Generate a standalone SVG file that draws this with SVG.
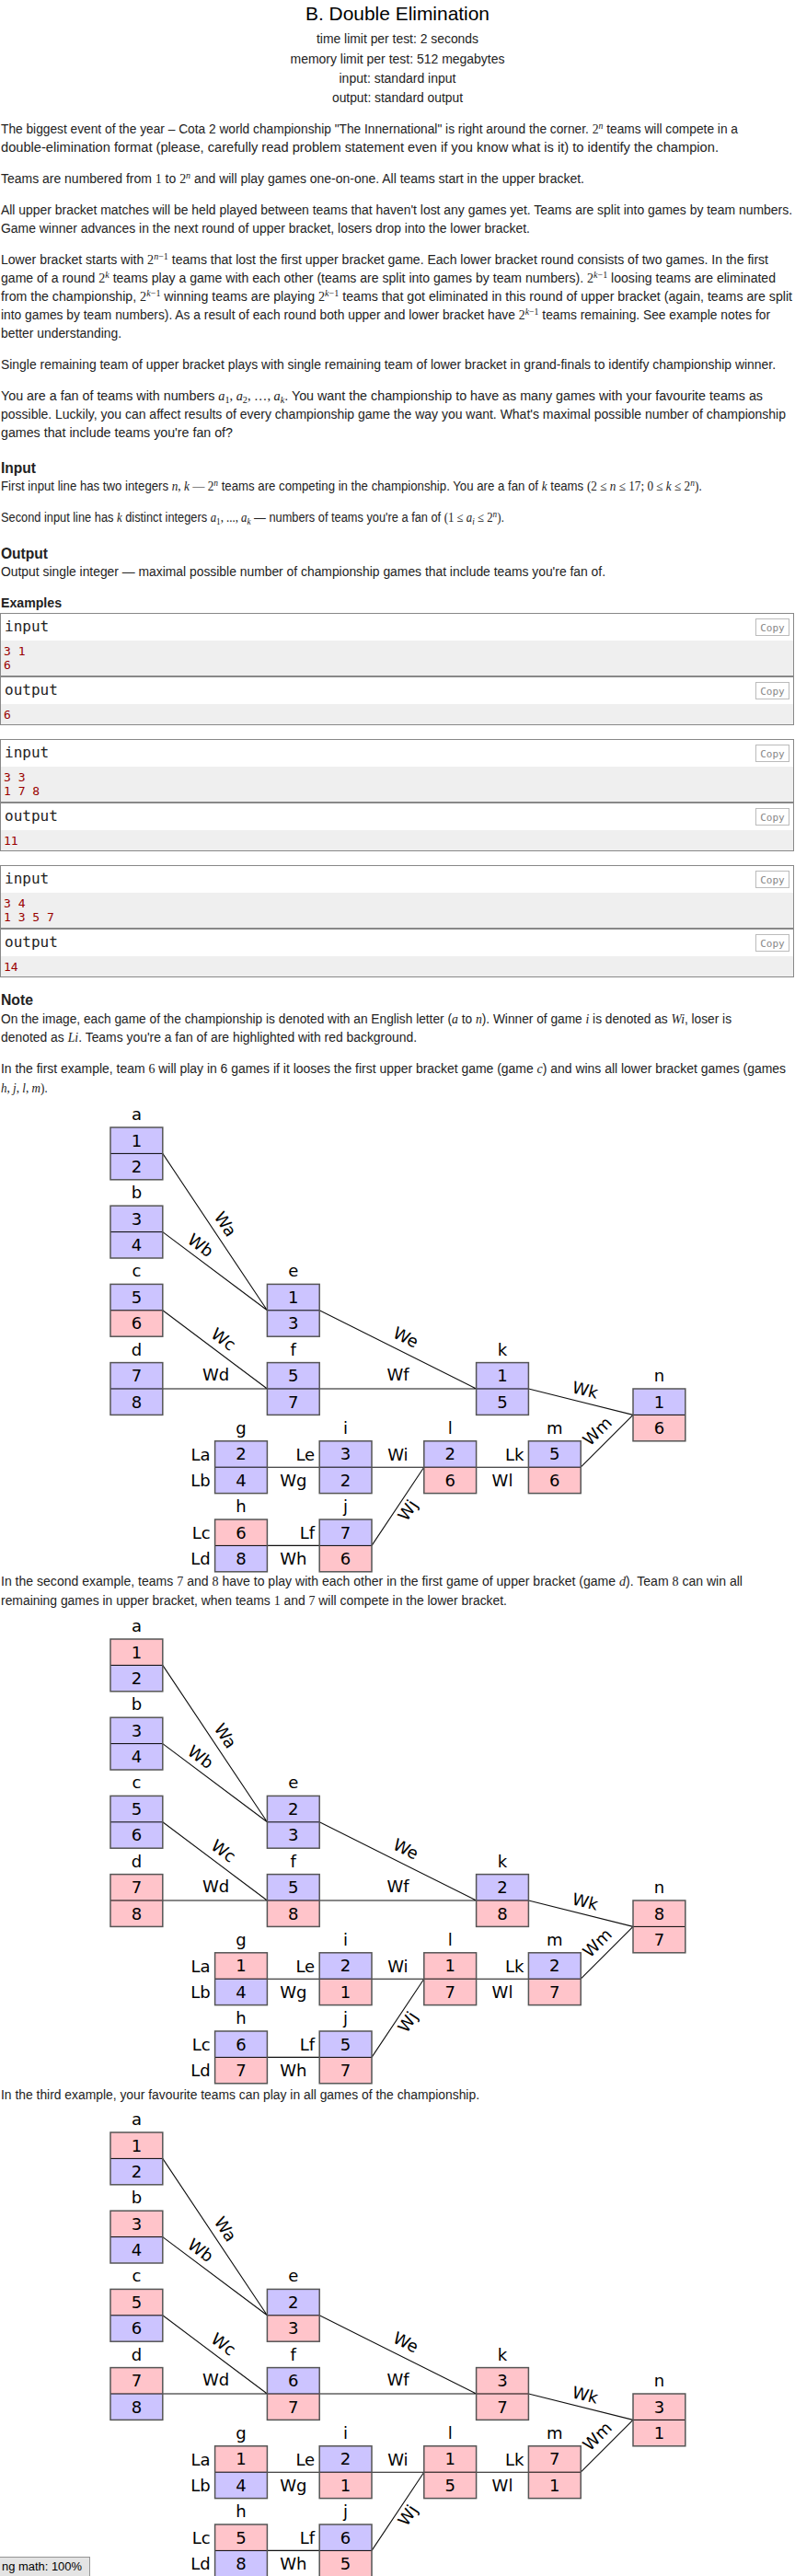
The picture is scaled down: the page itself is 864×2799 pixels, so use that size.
<svg xmlns="http://www.w3.org/2000/svg" width="864" height="2799" viewBox="0 0 864 2799">
<style>
.t{font-family:"Liberation Sans",Arial,sans-serif;font-size:14px;fill:#222}
.h{font-family:"Liberation Sans",Arial,sans-serif;font-size:16px;font-weight:bold;fill:#222}
.c{text-anchor:middle}
.m{font-family:"Liberation Serif","Times New Roman",serif}
.i{font-family:"Liberation Serif","Times New Roman",serif;font-style:italic}
.s{font-size:10px}
.ttl{font-family:"DejaVu Sans Mono",monospace;font-size:16px;fill:#222}
.io{font-family:"DejaVu Sans Mono",monospace;font-size:13px;fill:#990000}
.cpb{fill:#fff;stroke:#bbb;stroke-width:1}
.cpt{font-family:"DejaVu Sans Mono",monospace;font-size:11px;fill:#888;text-anchor:middle}
.gr{fill:#efefef}
.ob{fill:none;stroke:#888;stroke-width:1}
.cv{fill:#ccc4ff}
.cp{fill:#ffc4ca}
.bx{fill:none;stroke:#555;stroke-width:1.5}
.dv{stroke:#000;stroke-width:1;fill:none}
.n{font-family:"DejaVu Sans",Verdana,sans-serif;font-size:18px;fill:#000;text-anchor:middle}
.e{text-anchor:end}
.cn{fill:none;stroke:#111;stroke-width:1.1}
.wl{font-family:"DejaVu Sans",Verdana,sans-serif;font-size:18px;fill:#000;text-anchor:middle;dominant-baseline:central}
</style>

<g id="header">
<text class="t c" x="432" y="22" style="font-size:21px;fill:#000" textLength="200" lengthAdjust="spacingAndGlyphs">B. Double Elimination</text>
<text class="t c" x="432" y="47" textLength="176" lengthAdjust="spacingAndGlyphs">time limit per test: 2 seconds</text>
<text class="t c" x="432" y="69" textLength="233" lengthAdjust="spacingAndGlyphs">memory limit per test: 512 megabytes</text>
<text class="t c" x="432" y="90" textLength="127" lengthAdjust="spacingAndGlyphs">input: standard input</text>
<text class="t c" x="432" y="111" textLength="142" lengthAdjust="spacingAndGlyphs">output: standard output</text>
</g>

<g id="statement">
<text class="t" x="1" y="145" textLength="801" lengthAdjust="spacingAndGlyphs">The biggest event of the year – Cota 2 world championship "The Innernational" is right around the corner. <tspan class="m">2</tspan><tspan class="i s" dy="-5">n</tspan><tspan dy="5"> teams will compete in a</tspan></text>
<text class="t" x="1" y="165" textLength="780" lengthAdjust="spacingAndGlyphs">double-elimination format (please, carefully read problem statement even if you know what is it) to identify the champion.</text>
<text class="t" x="1" y="199" textLength="634" lengthAdjust="spacingAndGlyphs">Teams are numbered from <tspan class="m">1</tspan> to <tspan class="m">2</tspan><tspan class="i s" dy="-5">n</tspan><tspan dy="5"> and will play games one-on-one. All teams start in the upper bracket.</tspan></text>
<text class="t" x="1" y="233" textLength="860" lengthAdjust="spacingAndGlyphs">All upper bracket matches will be held played between teams that haven't lost any games yet. Teams are split into games by team numbers.</text>
<text class="t" x="1" y="253" textLength="575" lengthAdjust="spacingAndGlyphs">Game winner advances in the next round of upper bracket, losers drop into the lower bracket.</text>
<text class="t" x="1" y="287" textLength="834" lengthAdjust="spacingAndGlyphs">Lower bracket starts with <tspan class="m">2</tspan><tspan class="s" dy="-5"><tspan class="i">n</tspan><tspan class="m">−1</tspan></tspan><tspan dy="5"> teams that lost the first upper bracket game. Each lower bracket round consists of two games. In the first</tspan></text>
<text class="t" x="1" y="307" textLength="842" lengthAdjust="spacingAndGlyphs">game of a round <tspan class="m">2</tspan><tspan class="i s" dy="-5">k</tspan><tspan dy="5"> teams play a game with each other (teams are split into games by team numbers). </tspan><tspan class="m">2</tspan><tspan class="s" dy="-5"><tspan class="i">k</tspan><tspan class="m">−1</tspan></tspan><tspan dy="5"> loosing teams are eliminated</tspan></text>
<text class="t" x="1" y="327" textLength="860" lengthAdjust="spacingAndGlyphs">from the championship, <tspan class="m">2</tspan><tspan class="s" dy="-5"><tspan class="i">k</tspan><tspan class="m">−1</tspan></tspan><tspan dy="5"> winning teams are playing </tspan><tspan class="m">2</tspan><tspan class="s" dy="-5"><tspan class="i">k</tspan><tspan class="m">−1</tspan></tspan><tspan dy="5"> teams that got eliminated in this round of upper bracket (again, teams are split</tspan></text>
<text class="t" x="1" y="347" textLength="836" lengthAdjust="spacingAndGlyphs">into games by team numbers). As a result of each round both upper and lower bracket have <tspan class="m">2</tspan><tspan class="s" dy="-5"><tspan class="i">k</tspan><tspan class="m">−1</tspan></tspan><tspan dy="5"> teams remaining. See example notes for</tspan></text>
<text class="t" x="1" y="367" textLength="131" lengthAdjust="spacingAndGlyphs">better understanding.</text>
<text class="t" x="1" y="401" textLength="842" lengthAdjust="spacingAndGlyphs">Single remaining team of upper bracket plays with single remaining team of lower bracket in grand-finals to identify championship winner.</text>
<text class="t" x="1" y="435" textLength="828" lengthAdjust="spacingAndGlyphs">You are a fan of teams with numbers <tspan class="i">a</tspan><tspan class="m s" dy="3">1</tspan><tspan class="m" dy="-3">, </tspan><tspan class="i">a</tspan><tspan class="m s" dy="3">2</tspan><tspan class="m" dy="-3">, …, </tspan><tspan class="i">a</tspan><tspan class="i s" dy="3">k</tspan><tspan dy="-3">. You want the championship to have as many games with your favourite teams as</tspan></text>
<text class="t" x="1" y="455" textLength="853" lengthAdjust="spacingAndGlyphs">possible. Luckily, you can affect results of every championship game the way you want. What's maximal possible number of championship</text>
<text class="t" x="1" y="475" textLength="252" lengthAdjust="spacingAndGlyphs">games that include teams you're fan of?</text>

<text class="h" x="1" y="514" textLength="38" lengthAdjust="spacingAndGlyphs">Input</text>
<text class="t" x="1" y="533" textLength="762" lengthAdjust="spacingAndGlyphs">First input line has two integers <tspan class="i">n</tspan><tspan class="m">, </tspan><tspan class="i">k</tspan><tspan class="m"> — 2</tspan><tspan class="i s" dy="-5">n</tspan><tspan dy="5"> teams are competing in the championship. You are a fan of </tspan><tspan class="i">k</tspan><tspan> teams </tspan><tspan class="m">(2 ≤ </tspan><tspan class="i">n</tspan><tspan class="m"> ≤ 17; 0 ≤ </tspan><tspan class="i">k</tspan><tspan class="m"> ≤ 2</tspan><tspan class="i s" dy="-5">n</tspan><tspan class="m" dy="5">)</tspan><tspan>.</tspan></text>
<text class="t" x="1" y="567" textLength="547" lengthAdjust="spacingAndGlyphs">Second input line has <tspan class="i">k</tspan><tspan> distinct integers </tspan><tspan class="i">a</tspan><tspan class="m s" dy="3">1</tspan><tspan class="m" dy="-3">, ..., </tspan><tspan class="i">a</tspan><tspan class="i s" dy="3">k</tspan><tspan dy="-3"> — numbers of teams you're a fan of </tspan><tspan class="m">(1 ≤ </tspan><tspan class="i">a</tspan><tspan class="i s" dy="3">i</tspan><tspan class="m" dy="-3"> ≤ 2</tspan><tspan class="i s" dy="-5">n</tspan><tspan class="m" dy="5">)</tspan><tspan>.</tspan></text>

<text class="h" x="1" y="607" textLength="51" lengthAdjust="spacingAndGlyphs">Output</text>
<text class="t" x="1" y="626" textLength="657" lengthAdjust="spacingAndGlyphs">Output single integer — maximal possible number of championship games that include teams you're fan of.</text>
</g>

<g id="examples">
<text class="h" x="1" y="660" style="font-size:14px" textLength="66" lengthAdjust="spacingAndGlyphs">Examples</text>

<g id="example1">
<rect x="0.5" y="666.5" width="862" height="121" fill="#fff"/>
<rect class="gr" x="1" y="696" width="861" height="38"/>
<rect class="gr" x="1" y="765" width="861" height="22"/>
<rect class="ob" x="0.5" y="666.5" width="862" height="121"/>
<line x1="0" y1="735" x2="863" y2="735" stroke="#888" stroke-width="2"/>
<text class="ttl" x="5" y="686">input</text>
<rect class="cpb" x="821.5" y="672.5" width="36" height="18"/><text class="cpt" x="839.5" y="685.5">Copy</text>
<text class="io" x="4" y="711.5">3 1</text>
<text class="io" x="4" y="727">6</text>
<text class="ttl" x="5" y="755">output</text>
<rect class="cpb" x="821.5" y="741.5" width="36" height="18"/><text class="cpt" x="839.5" y="754.5">Copy</text>
<text class="io" x="4" y="780.5">6</text>
</g>

<g id="example2">
<rect x="0.5" y="803.5" width="862" height="121" fill="#fff"/>
<rect class="gr" x="1" y="833" width="861" height="38"/>
<rect class="gr" x="1" y="902" width="861" height="22"/>
<rect class="ob" x="0.5" y="803.5" width="862" height="121"/>
<line x1="0" y1="872" x2="863" y2="872" stroke="#888" stroke-width="2"/>
<text class="ttl" x="5" y="823">input</text>
<rect class="cpb" x="821.5" y="809.5" width="36" height="18"/><text class="cpt" x="839.5" y="822.5">Copy</text>
<text class="io" x="4" y="848.5">3 3</text>
<text class="io" x="4" y="864">1 7 8</text>
<text class="ttl" x="5" y="892">output</text>
<rect class="cpb" x="821.5" y="878.5" width="36" height="18"/><text class="cpt" x="839.5" y="891.5">Copy</text>
<text class="io" x="4" y="917.5">11</text>
</g>

<g id="example3">
<rect x="0.5" y="940.5" width="862" height="121" fill="#fff"/>
<rect class="gr" x="1" y="970" width="861" height="38"/>
<rect class="gr" x="1" y="1039" width="861" height="22"/>
<rect class="ob" x="0.5" y="940.5" width="862" height="121"/>
<line x1="0" y1="1009" x2="863" y2="1009" stroke="#888" stroke-width="2"/>
<text class="ttl" x="5" y="960">input</text>
<rect class="cpb" x="821.5" y="946.5" width="36" height="18"/><text class="cpt" x="839.5" y="959.5">Copy</text>
<text class="io" x="4" y="985.5">3 4</text>
<text class="io" x="4" y="1001">1 3 5 7</text>
<text class="ttl" x="5" y="1029">output</text>
<rect class="cpb" x="821.5" y="1015.5" width="36" height="18"/><text class="cpt" x="839.5" y="1028.5">Copy</text>
<text class="io" x="4" y="1054.5">14</text>
</g>
</g>

<g id="note">
<text class="h" x="1" y="1092" textLength="35" lengthAdjust="spacingAndGlyphs">Note</text>
<text class="t" x="1" y="1112" textLength="794" lengthAdjust="spacingAndGlyphs">On the image, each game of the championship is denoted with an English letter (<tspan class="i">a</tspan> to <tspan class="i">n</tspan>). Winner of game <tspan class="i">i</tspan> is denoted as <tspan class="i">Wi</tspan>, loser is</text>
<text class="t" x="1" y="1132" textLength="452" lengthAdjust="spacingAndGlyphs">denoted as <tspan class="i">Li</tspan>. Teams you're a fan of are highlighted with red background.</text>
<text class="t" x="1" y="1166" textLength="853" lengthAdjust="spacingAndGlyphs">In the first example, team <tspan class="m">6</tspan> will play in 6 games if it looses the first upper bracket game (game <tspan class="i">c</tspan>) and wins all lower bracket games (games</text>
<text class="t" x="1" y="1187" textLength="51" lengthAdjust="spacingAndGlyphs"><tspan class="i">h</tspan><tspan class="m">, </tspan><tspan class="i">j</tspan><tspan class="m">, </tspan><tspan class="i">l</tspan><tspan class="m">, </tspan><tspan class="i">m</tspan><tspan class="m">)</tspan>.</text>
<text class="t" x="1" y="1723" textLength="806" lengthAdjust="spacingAndGlyphs">In the second example, teams <tspan class="m">7</tspan> and <tspan class="m">8</tspan> have to play with each other in the first game of upper bracket (game <tspan class="i">d</tspan>). Team <tspan class="m">8</tspan> can win all</text>
<text class="t" x="1" y="1744" textLength="550" lengthAdjust="spacingAndGlyphs">remaining games in upper bracket, when teams <tspan class="m">1</tspan> and <tspan class="m">7</tspan> will compete in the lower bracket.</text>
<text class="t" x="1" y="2281" textLength="520" lengthAdjust="spacingAndGlyphs">In the third example, your favourite teams can play in all games of the championship.</text>
</g>

<!-- Diagram 1 -->
<g id="diagram1" transform="translate(0,1225)">
<g id="d1-connectors">
<path class="cn" d="M176.8 28.4L290.4 198.8M176.8 113.6L290.4 198.8M176.8 198.8L290.4 284M176.8 284H290.4M347.2 198.8L517.6 284M347.2 284H517.6M574.4 284L688 312.4M631.2 369.2L688 312.4M290.4 369.2H347.2M404 369.2H460.8M517.6 369.2H574.4M290.4 454.4H347.2M404 454.4L460.8 369.2"/>
<text class="wl" transform="translate(245 105) rotate(56.3)">Wa</text>
<text class="wl" transform="translate(218 128) rotate(36.87)">Wb</text>
<text class="wl" transform="translate(243 230) rotate(36.87)">Wc</text>
<text class="wl" x="234.5" y="268">Wd</text>
<text class="wl" transform="translate(441 228) rotate(26.57)">We</text>
<text class="wl" x="432.5" y="268">Wf</text>
<text class="wl" transform="translate(636 285) rotate(14.04)">Wk</text>
<text class="wl" transform="translate(649 330) rotate(-45)">Wm</text>
<text class="wl" transform="translate(443 416) rotate(-56.3)">Wj</text>
<text class="n e" x="228.6" y="361.5">La</text>
<text class="n e" x="228.6" y="389.9">Lb</text>
<text class="n e" x="342.2" y="361.5">Le</text>
<text class="n" x="318.8" y="389.9">Wg</text>
<text class="n" x="432.4" y="361.5">Wi</text>
<text class="n e" x="569.4" y="361.5">Lk</text>
<text class="n" x="546" y="389.9">Wl</text>
<text class="n e" x="228.6" y="446.7">Lc</text>
<text class="n e" x="228.6" y="475.1">Ld</text>
<text class="n e" x="342.2" y="446.7">Lf</text>
<text class="n" x="318.8" y="475.1">Wh</text>
</g>
<g id="d1-a" transform="translate(120 0)"><rect class="cv" width="56.8" height="28.4"/><rect class="cv" y="28.4" width="56.8" height="28.4"/><path class="dv" d="M0 28.4H56.8"/><rect class="bx" width="56.8" height="56.8"/><text class="n" x="28.4" y="-8">a</text><text class="n" x="28.4" y="20.7">1</text><text class="n" x="28.4" y="49.1">2</text></g>
<g id="d1-b" transform="translate(120 85.2)"><rect class="cv" width="56.8" height="28.4"/><rect class="cv" y="28.4" width="56.8" height="28.4"/><path class="dv" d="M0 28.4H56.8"/><rect class="bx" width="56.8" height="56.8"/><text class="n" x="28.4" y="-8">b</text><text class="n" x="28.4" y="20.7">3</text><text class="n" x="28.4" y="49.1">4</text></g>
<g id="d1-c" transform="translate(120 170.4)"><rect class="cv" width="56.8" height="28.4"/><rect class="cp" y="28.4" width="56.8" height="28.4"/><path class="dv" d="M0 28.4H56.8"/><rect class="bx" width="56.8" height="56.8"/><text class="n" x="28.4" y="-8">c</text><text class="n" x="28.4" y="20.7">5</text><text class="n" x="28.4" y="49.1">6</text></g>
<g id="d1-d" transform="translate(120 255.6)"><rect class="cv" width="56.8" height="28.4"/><rect class="cv" y="28.4" width="56.8" height="28.4"/><path class="dv" d="M0 28.4H56.8"/><rect class="bx" width="56.8" height="56.8"/><text class="n" x="28.4" y="-8">d</text><text class="n" x="28.4" y="20.7">7</text><text class="n" x="28.4" y="49.1">8</text></g>
<g id="d1-e" transform="translate(290.4 170.4)"><rect class="cv" width="56.8" height="28.4"/><rect class="cv" y="28.4" width="56.8" height="28.4"/><path class="dv" d="M0 28.4H56.8"/><rect class="bx" width="56.8" height="56.8"/><text class="n" x="28.4" y="-8">e</text><text class="n" x="28.4" y="20.7">1</text><text class="n" x="28.4" y="49.1">3</text></g>
<g id="d1-f" transform="translate(290.4 255.6)"><rect class="cv" width="56.8" height="28.4"/><rect class="cv" y="28.4" width="56.8" height="28.4"/><path class="dv" d="M0 28.4H56.8"/><rect class="bx" width="56.8" height="56.8"/><text class="n" x="28.4" y="-8">f</text><text class="n" x="28.4" y="20.7">5</text><text class="n" x="28.4" y="49.1">7</text></g>
<g id="d1-k" transform="translate(517.6 255.6)"><rect class="cv" width="56.8" height="28.4"/><rect class="cv" y="28.4" width="56.8" height="28.4"/><path class="dv" d="M0 28.4H56.8"/><rect class="bx" width="56.8" height="56.8"/><text class="n" x="28.4" y="-8">k</text><text class="n" x="28.4" y="20.7">1</text><text class="n" x="28.4" y="49.1">5</text></g>
<g id="d1-n" transform="translate(688 284)"><rect class="cv" width="56.8" height="28.4"/><rect class="cp" y="28.4" width="56.8" height="28.4"/><path class="dv" d="M0 28.4H56.8"/><rect class="bx" width="56.8" height="56.8"/><text class="n" x="28.4" y="-8">n</text><text class="n" x="28.4" y="20.7">1</text><text class="n" x="28.4" y="49.1">6</text></g>
<g id="d1-g" transform="translate(233.6 340.8)"><rect class="cv" width="56.8" height="28.4"/><rect class="cv" y="28.4" width="56.8" height="28.4"/><path class="dv" d="M0 28.4H56.8"/><rect class="bx" width="56.8" height="56.8"/><text class="n" x="28.4" y="-8">g</text><text class="n" x="28.4" y="20.7">2</text><text class="n" x="28.4" y="49.1">4</text></g>
<g id="d1-i" transform="translate(347.2 340.8)"><rect class="cv" width="56.8" height="28.4"/><rect class="cv" y="28.4" width="56.8" height="28.4"/><path class="dv" d="M0 28.4H56.8"/><rect class="bx" width="56.8" height="56.8"/><text class="n" x="28.4" y="-8">i</text><text class="n" x="28.4" y="20.7">3</text><text class="n" x="28.4" y="49.1">2</text></g>
<g id="d1-l" transform="translate(460.8 340.8)"><rect class="cv" width="56.8" height="28.4"/><rect class="cp" y="28.4" width="56.8" height="28.4"/><path class="dv" d="M0 28.4H56.8"/><rect class="bx" width="56.8" height="56.8"/><text class="n" x="28.4" y="-8">l</text><text class="n" x="28.4" y="20.7">2</text><text class="n" x="28.4" y="49.1">6</text></g>
<g id="d1-m" transform="translate(574.4 340.8)"><rect class="cv" width="56.8" height="28.4"/><rect class="cp" y="28.4" width="56.8" height="28.4"/><path class="dv" d="M0 28.4H56.8"/><rect class="bx" width="56.8" height="56.8"/><text class="n" x="28.4" y="-8">m</text><text class="n" x="28.4" y="20.7">5</text><text class="n" x="28.4" y="49.1">6</text></g>
<g id="d1-h" transform="translate(233.6 426)"><rect class="cp" width="56.8" height="28.4"/><rect class="cv" y="28.4" width="56.8" height="28.4"/><path class="dv" d="M0 28.4H56.8"/><rect class="bx" width="56.8" height="56.8"/><text class="n" x="28.4" y="-8">h</text><text class="n" x="28.4" y="20.7">6</text><text class="n" x="28.4" y="49.1">8</text></g>
<g id="d1-j" transform="translate(347.2 426)"><rect class="cv" width="56.8" height="28.4"/><rect class="cp" y="28.4" width="56.8" height="28.4"/><path class="dv" d="M0 28.4H56.8"/><rect class="bx" width="56.8" height="56.8"/><text class="n" x="28.4" y="-8">j</text><text class="n" x="28.4" y="20.7">7</text><text class="n" x="28.4" y="49.1">6</text></g>
</g>

<!-- Diagram 2 -->
<g id="diagram2" transform="translate(0,1781)">
<g id="d2-connectors">
<path class="cn" d="M176.8 28.4L290.4 198.8M176.8 113.6L290.4 198.8M176.8 198.8L290.4 284M176.8 284H290.4M347.2 198.8L517.6 284M347.2 284H517.6M574.4 284L688 312.4M631.2 369.2L688 312.4M290.4 369.2H347.2M404 369.2H460.8M517.6 369.2H574.4M290.4 454.4H347.2M404 454.4L460.8 369.2"/>
<text class="wl" transform="translate(245 105) rotate(56.3)">Wa</text>
<text class="wl" transform="translate(218 128) rotate(36.87)">Wb</text>
<text class="wl" transform="translate(243 230) rotate(36.87)">Wc</text>
<text class="wl" x="234.5" y="268">Wd</text>
<text class="wl" transform="translate(441 228) rotate(26.57)">We</text>
<text class="wl" x="432.5" y="268">Wf</text>
<text class="wl" transform="translate(636 285) rotate(14.04)">Wk</text>
<text class="wl" transform="translate(649 330) rotate(-45)">Wm</text>
<text class="wl" transform="translate(443 416) rotate(-56.3)">Wj</text>
<text class="n e" x="228.6" y="361.5">La</text>
<text class="n e" x="228.6" y="389.9">Lb</text>
<text class="n e" x="342.2" y="361.5">Le</text>
<text class="n" x="318.8" y="389.9">Wg</text>
<text class="n" x="432.4" y="361.5">Wi</text>
<text class="n e" x="569.4" y="361.5">Lk</text>
<text class="n" x="546" y="389.9">Wl</text>
<text class="n e" x="228.6" y="446.7">Lc</text>
<text class="n e" x="228.6" y="475.1">Ld</text>
<text class="n e" x="342.2" y="446.7">Lf</text>
<text class="n" x="318.8" y="475.1">Wh</text>
</g>
<g id="d2-a" transform="translate(120 0)"><rect class="cp" width="56.8" height="28.4"/><rect class="cv" y="28.4" width="56.8" height="28.4"/><path class="dv" d="M0 28.4H56.8"/><rect class="bx" width="56.8" height="56.8"/><text class="n" x="28.4" y="-8">a</text><text class="n" x="28.4" y="20.7">1</text><text class="n" x="28.4" y="49.1">2</text></g>
<g id="d2-b" transform="translate(120 85.2)"><rect class="cv" width="56.8" height="28.4"/><rect class="cv" y="28.4" width="56.8" height="28.4"/><path class="dv" d="M0 28.4H56.8"/><rect class="bx" width="56.8" height="56.8"/><text class="n" x="28.4" y="-8">b</text><text class="n" x="28.4" y="20.7">3</text><text class="n" x="28.4" y="49.1">4</text></g>
<g id="d2-c" transform="translate(120 170.4)"><rect class="cv" width="56.8" height="28.4"/><rect class="cv" y="28.4" width="56.8" height="28.4"/><path class="dv" d="M0 28.4H56.8"/><rect class="bx" width="56.8" height="56.8"/><text class="n" x="28.4" y="-8">c</text><text class="n" x="28.4" y="20.7">5</text><text class="n" x="28.4" y="49.1">6</text></g>
<g id="d2-d" transform="translate(120 255.6)"><rect class="cp" width="56.8" height="28.4"/><rect class="cp" y="28.4" width="56.8" height="28.4"/><path class="dv" d="M0 28.4H56.8"/><rect class="bx" width="56.8" height="56.8"/><text class="n" x="28.4" y="-8">d</text><text class="n" x="28.4" y="20.7">7</text><text class="n" x="28.4" y="49.1">8</text></g>
<g id="d2-e" transform="translate(290.4 170.4)"><rect class="cv" width="56.8" height="28.4"/><rect class="cv" y="28.4" width="56.8" height="28.4"/><path class="dv" d="M0 28.4H56.8"/><rect class="bx" width="56.8" height="56.8"/><text class="n" x="28.4" y="-8">e</text><text class="n" x="28.4" y="20.7">2</text><text class="n" x="28.4" y="49.1">3</text></g>
<g id="d2-f" transform="translate(290.4 255.6)"><rect class="cv" width="56.8" height="28.4"/><rect class="cp" y="28.4" width="56.8" height="28.4"/><path class="dv" d="M0 28.4H56.8"/><rect class="bx" width="56.8" height="56.8"/><text class="n" x="28.4" y="-8">f</text><text class="n" x="28.4" y="20.7">5</text><text class="n" x="28.4" y="49.1">8</text></g>
<g id="d2-k" transform="translate(517.6 255.6)"><rect class="cv" width="56.8" height="28.4"/><rect class="cp" y="28.4" width="56.8" height="28.4"/><path class="dv" d="M0 28.4H56.8"/><rect class="bx" width="56.8" height="56.8"/><text class="n" x="28.4" y="-8">k</text><text class="n" x="28.4" y="20.7">2</text><text class="n" x="28.4" y="49.1">8</text></g>
<g id="d2-n" transform="translate(688 284)"><rect class="cp" width="56.8" height="28.4"/><rect class="cp" y="28.4" width="56.8" height="28.4"/><path class="dv" d="M0 28.4H56.8"/><rect class="bx" width="56.8" height="56.8"/><text class="n" x="28.4" y="-8">n</text><text class="n" x="28.4" y="20.7">8</text><text class="n" x="28.4" y="49.1">7</text></g>
<g id="d2-g" transform="translate(233.6 340.8)"><rect class="cp" width="56.8" height="28.4"/><rect class="cv" y="28.4" width="56.8" height="28.4"/><path class="dv" d="M0 28.4H56.8"/><rect class="bx" width="56.8" height="56.8"/><text class="n" x="28.4" y="-8">g</text><text class="n" x="28.4" y="20.7">1</text><text class="n" x="28.4" y="49.1">4</text></g>
<g id="d2-i" transform="translate(347.2 340.8)"><rect class="cv" width="56.8" height="28.4"/><rect class="cp" y="28.4" width="56.8" height="28.4"/><path class="dv" d="M0 28.4H56.8"/><rect class="bx" width="56.8" height="56.8"/><text class="n" x="28.4" y="-8">i</text><text class="n" x="28.4" y="20.7">2</text><text class="n" x="28.4" y="49.1">1</text></g>
<g id="d2-l" transform="translate(460.8 340.8)"><rect class="cp" width="56.8" height="28.4"/><rect class="cp" y="28.4" width="56.8" height="28.4"/><path class="dv" d="M0 28.4H56.8"/><rect class="bx" width="56.8" height="56.8"/><text class="n" x="28.4" y="-8">l</text><text class="n" x="28.4" y="20.7">1</text><text class="n" x="28.4" y="49.1">7</text></g>
<g id="d2-m" transform="translate(574.4 340.8)"><rect class="cv" width="56.8" height="28.4"/><rect class="cp" y="28.4" width="56.8" height="28.4"/><path class="dv" d="M0 28.4H56.8"/><rect class="bx" width="56.8" height="56.8"/><text class="n" x="28.4" y="-8">m</text><text class="n" x="28.4" y="20.7">2</text><text class="n" x="28.4" y="49.1">7</text></g>
<g id="d2-h" transform="translate(233.6 426)"><rect class="cv" width="56.8" height="28.4"/><rect class="cp" y="28.4" width="56.8" height="28.4"/><path class="dv" d="M0 28.4H56.8"/><rect class="bx" width="56.8" height="56.8"/><text class="n" x="28.4" y="-8">h</text><text class="n" x="28.4" y="20.7">6</text><text class="n" x="28.4" y="49.1">7</text></g>
<g id="d2-j" transform="translate(347.2 426)"><rect class="cv" width="56.8" height="28.4"/><rect class="cp" y="28.4" width="56.8" height="28.4"/><path class="dv" d="M0 28.4H56.8"/><rect class="bx" width="56.8" height="56.8"/><text class="n" x="28.4" y="-8">j</text><text class="n" x="28.4" y="20.7">5</text><text class="n" x="28.4" y="49.1">7</text></g>
</g>

<!-- Diagram 3 -->
<g id="diagram3" transform="translate(0,2317)">
<g id="d3-connectors">
<path class="cn" d="M176.8 28.4L290.4 198.8M176.8 113.6L290.4 198.8M176.8 198.8L290.4 284M176.8 284H290.4M347.2 198.8L517.6 284M347.2 284H517.6M574.4 284L688 312.4M631.2 369.2L688 312.4M290.4 369.2H347.2M404 369.2H460.8M517.6 369.2H574.4M290.4 454.4H347.2M404 454.4L460.8 369.2"/>
<text class="wl" transform="translate(245 105) rotate(56.3)">Wa</text>
<text class="wl" transform="translate(218 128) rotate(36.87)">Wb</text>
<text class="wl" transform="translate(243 230) rotate(36.87)">Wc</text>
<text class="wl" x="234.5" y="268">Wd</text>
<text class="wl" transform="translate(441 228) rotate(26.57)">We</text>
<text class="wl" x="432.5" y="268">Wf</text>
<text class="wl" transform="translate(636 285) rotate(14.04)">Wk</text>
<text class="wl" transform="translate(649 330) rotate(-45)">Wm</text>
<text class="wl" transform="translate(443 416) rotate(-56.3)">Wj</text>
<text class="n e" x="228.6" y="361.5">La</text>
<text class="n e" x="228.6" y="389.9">Lb</text>
<text class="n e" x="342.2" y="361.5">Le</text>
<text class="n" x="318.8" y="389.9">Wg</text>
<text class="n" x="432.4" y="361.5">Wi</text>
<text class="n e" x="569.4" y="361.5">Lk</text>
<text class="n" x="546" y="389.9">Wl</text>
<text class="n e" x="228.6" y="446.7">Lc</text>
<text class="n e" x="228.6" y="475.1">Ld</text>
<text class="n e" x="342.2" y="446.7">Lf</text>
<text class="n" x="318.8" y="475.1">Wh</text>
</g>
<g id="d3-a" transform="translate(120 0)"><rect class="cp" width="56.8" height="28.4"/><rect class="cv" y="28.4" width="56.8" height="28.4"/><path class="dv" d="M0 28.4H56.8"/><rect class="bx" width="56.8" height="56.8"/><text class="n" x="28.4" y="-8">a</text><text class="n" x="28.4" y="20.7">1</text><text class="n" x="28.4" y="49.1">2</text></g>
<g id="d3-b" transform="translate(120 85.2)"><rect class="cp" width="56.8" height="28.4"/><rect class="cv" y="28.4" width="56.8" height="28.4"/><path class="dv" d="M0 28.4H56.8"/><rect class="bx" width="56.8" height="56.8"/><text class="n" x="28.4" y="-8">b</text><text class="n" x="28.4" y="20.7">3</text><text class="n" x="28.4" y="49.1">4</text></g>
<g id="d3-c" transform="translate(120 170.4)"><rect class="cp" width="56.8" height="28.4"/><rect class="cv" y="28.4" width="56.8" height="28.4"/><path class="dv" d="M0 28.4H56.8"/><rect class="bx" width="56.8" height="56.8"/><text class="n" x="28.4" y="-8">c</text><text class="n" x="28.4" y="20.7">5</text><text class="n" x="28.4" y="49.1">6</text></g>
<g id="d3-d" transform="translate(120 255.6)"><rect class="cp" width="56.8" height="28.4"/><rect class="cv" y="28.4" width="56.8" height="28.4"/><path class="dv" d="M0 28.4H56.8"/><rect class="bx" width="56.8" height="56.8"/><text class="n" x="28.4" y="-8">d</text><text class="n" x="28.4" y="20.7">7</text><text class="n" x="28.4" y="49.1">8</text></g>
<g id="d3-e" transform="translate(290.4 170.4)"><rect class="cv" width="56.8" height="28.4"/><rect class="cp" y="28.4" width="56.8" height="28.4"/><path class="dv" d="M0 28.4H56.8"/><rect class="bx" width="56.8" height="56.8"/><text class="n" x="28.4" y="-8">e</text><text class="n" x="28.4" y="20.7">2</text><text class="n" x="28.4" y="49.1">3</text></g>
<g id="d3-f" transform="translate(290.4 255.6)"><rect class="cv" width="56.8" height="28.4"/><rect class="cp" y="28.4" width="56.8" height="28.4"/><path class="dv" d="M0 28.4H56.8"/><rect class="bx" width="56.8" height="56.8"/><text class="n" x="28.4" y="-8">f</text><text class="n" x="28.4" y="20.7">6</text><text class="n" x="28.4" y="49.1">7</text></g>
<g id="d3-k" transform="translate(517.6 255.6)"><rect class="cp" width="56.8" height="28.4"/><rect class="cp" y="28.4" width="56.8" height="28.4"/><path class="dv" d="M0 28.4H56.8"/><rect class="bx" width="56.8" height="56.8"/><text class="n" x="28.4" y="-8">k</text><text class="n" x="28.4" y="20.7">3</text><text class="n" x="28.4" y="49.1">7</text></g>
<g id="d3-n" transform="translate(688 284)"><rect class="cp" width="56.8" height="28.4"/><rect class="cp" y="28.4" width="56.8" height="28.4"/><path class="dv" d="M0 28.4H56.8"/><rect class="bx" width="56.8" height="56.8"/><text class="n" x="28.4" y="-8">n</text><text class="n" x="28.4" y="20.7">3</text><text class="n" x="28.4" y="49.1">1</text></g>
<g id="d3-g" transform="translate(233.6 340.8)"><rect class="cp" width="56.8" height="28.4"/><rect class="cv" y="28.4" width="56.8" height="28.4"/><path class="dv" d="M0 28.4H56.8"/><rect class="bx" width="56.8" height="56.8"/><text class="n" x="28.4" y="-8">g</text><text class="n" x="28.4" y="20.7">1</text><text class="n" x="28.4" y="49.1">4</text></g>
<g id="d3-i" transform="translate(347.2 340.8)"><rect class="cv" width="56.8" height="28.4"/><rect class="cp" y="28.4" width="56.8" height="28.4"/><path class="dv" d="M0 28.4H56.8"/><rect class="bx" width="56.8" height="56.8"/><text class="n" x="28.4" y="-8">i</text><text class="n" x="28.4" y="20.7">2</text><text class="n" x="28.4" y="49.1">1</text></g>
<g id="d3-l" transform="translate(460.8 340.8)"><rect class="cp" width="56.8" height="28.4"/><rect class="cp" y="28.4" width="56.8" height="28.4"/><path class="dv" d="M0 28.4H56.8"/><rect class="bx" width="56.8" height="56.8"/><text class="n" x="28.4" y="-8">l</text><text class="n" x="28.4" y="20.7">1</text><text class="n" x="28.4" y="49.1">5</text></g>
<g id="d3-m" transform="translate(574.4 340.8)"><rect class="cp" width="56.8" height="28.4"/><rect class="cp" y="28.4" width="56.8" height="28.4"/><path class="dv" d="M0 28.4H56.8"/><rect class="bx" width="56.8" height="56.8"/><text class="n" x="28.4" y="-8">m</text><text class="n" x="28.4" y="20.7">7</text><text class="n" x="28.4" y="49.1">1</text></g>
<g id="d3-h" transform="translate(233.6 426)"><rect class="cp" width="56.8" height="28.4"/><rect class="cv" y="28.4" width="56.8" height="28.4"/><path class="dv" d="M0 28.4H56.8"/><rect class="bx" width="56.8" height="56.8"/><text class="n" x="28.4" y="-8">h</text><text class="n" x="28.4" y="20.7">5</text><text class="n" x="28.4" y="49.1">8</text></g>
<g id="d3-j" transform="translate(347.2 426)"><rect class="cv" width="56.8" height="28.4"/><rect class="cp" y="28.4" width="56.8" height="28.4"/><path class="dv" d="M0 28.4H56.8"/><rect class="bx" width="56.8" height="56.8"/><text class="n" x="28.4" y="-8">j</text><text class="n" x="28.4" y="20.7">6</text><text class="n" x="28.4" y="49.1">5</text></g>
</g>

<g id="mathjax-status">
<rect x="-80.5" y="2778.5" width="178" height="24" fill="#e4e4e4" stroke="#959595"/>
<text x="2" y="2793" style="font-family:'Liberation Sans',Arial,sans-serif;font-size:12px;fill:#000" textLength="87" lengthAdjust="spacingAndGlyphs">ng math: 100%</text>
</g>
</svg>
